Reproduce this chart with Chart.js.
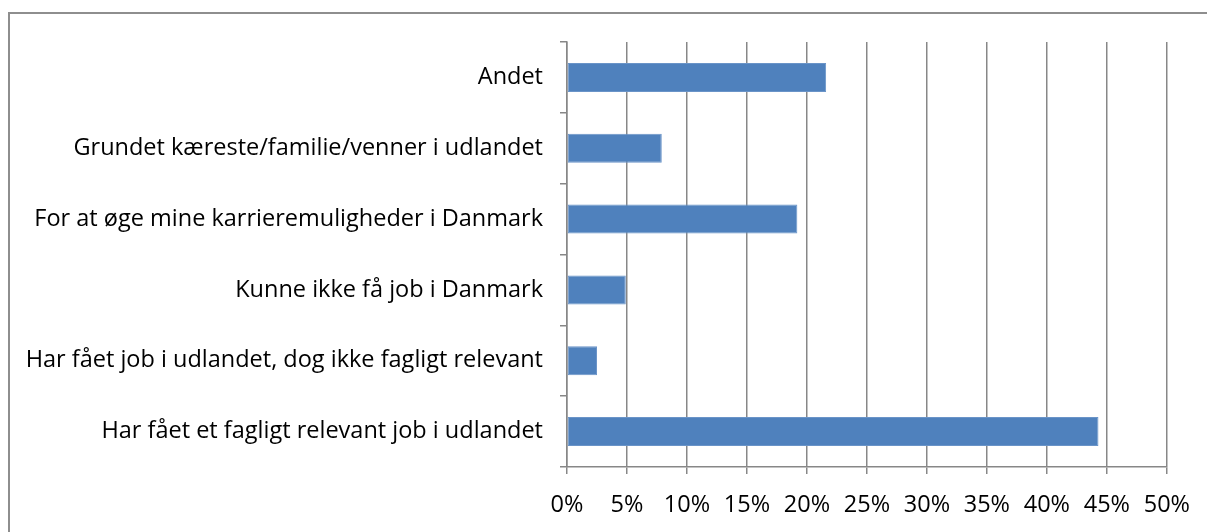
<!DOCTYPE html>
<html lang="da">
<head>
  <meta charset="UTF-8">
  <title>Årsager til job i udlandet</title>
  <script src="https://cdn.jsdelivr.net/npm/chart.js"></script>
  <style>
    body {
      margin: 0;
      padding: 0;
      background: #fff;
      width: 1207px;
      height: 532px;
      overflow: hidden;
      position: relative;
    }
    .frame {
      position: absolute;
      left: 8px;
      top: 12px;
      width: 1220px;
      height: 540px;
      border-left: 2px solid #8e8e8e;
      border-top: 2px solid #8e8e8e;
    }
    .chart-container {
      position: absolute;
      left: 0;
      top: 0;
      width: 1207px;
      height: 532px;
    }
  </style>
</head>
<body>
  <div class="frame"></div>
  <div class="chart-container">
    <canvas id="aarsagChart"></canvas>
  </div>

  <script>
    const categories = [
      'Andet',
      'Grundet kæreste/familie/venner i udlandet',
      'For at øge mine karrieremuligheder i Danmark',
      'Kunne ikke få job i Danmark',
      'Har fået job i udlandet, dog ikke fagligt relevant',
      'Har fået et fagligt relevant job i udlandet'
    ];
    const shares = [21.6, 7.9, 19.2, 4.9, 2.5, 44.3];
    const tickValues = [0, 5, 10, 15, 20, 25, 30, 35, 40, 45, 50];

    const lineGray = '#878787';
    const fontName = "'Open Sans', 'Noto Sans', sans-serif";

    const ctx = document.getElementById('aarsagChart').getContext('2d');

    new Chart(ctx, {
      type: 'bar',
      data: {
        labels: categories,
        datasets: [{
          data: shares,
          backgroundColor: '#4f81bd',
          borderColor: '#6a94c8',
          borderWidth: 1,
          borderSkipped: false,
          barPercentage: 0.82,
          categoryPercentage: 0.5
        }]
      },
      options: {
        indexAxis: 'y',
        responsive: true,
        maintainAspectRatio: false,
        animation: false,
        layout: {
          padding: { top: 42, right: 38, left: 0, bottom: 0 }
        },
        plugins: {
          legend: { display: false },
          tooltip: { enabled: false }
        },
        scales: {
          x: {
            min: 0,
            max: 50,
            afterBuildTicks(scale) {
              scale.ticks = tickValues.map(v => ({ value: v }));
            },
            afterFit(scale) {
              scale.height = 65;
            },
            ticks: {
              color: '#000',
              padding: 17,
              font: { family: fontName, size: 23.5 },
              maxRotation: 0,
              callback: v => v + '%'
            },
            grid: {
              color: lineGray,
              lineWidth: 1.5,
              tickLength: 7
            },
            border: { color: lineGray, width: 1.5 }
          },
          y: {
            afterFit(scale) {
              scale.width = 567;
            },
            ticks: {
              color: '#000',
              padding: 17,
              font: { family: fontName, size: 23.5 }
            },
            grid: {
              drawOnChartArea: false,
              offset: true,
              color: lineGray,
              lineWidth: 1.5,
              tickLength: 7
            },
            border: { color: lineGray, width: 1.5 }
          }
        }
      }
    });
  </script>
</body>
</html>
